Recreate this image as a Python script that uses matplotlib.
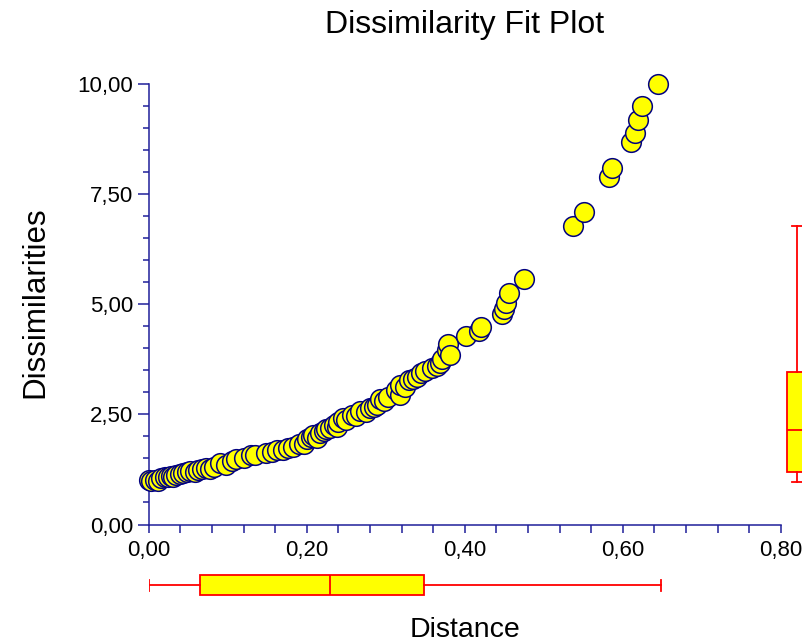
import matplotlib.pyplot as plt
from matplotlib.ticker import MultipleLocator, FuncFormatter

plt.rcParams['font.family'] = ['Liberation Sans', 'DejaVu Sans']

# fitted distances and the matching input dissimilarities
distance = [
    0.000, 0.003, 0.008, 0.012, 0.016, 0.020, 0.024, 0.028, 0.031, 0.035,
    0.040, 0.044, 0.048, 0.052, 0.058, 0.063,
    0.068, 0.073, 0.078, 0.083, 0.090, 0.098, 0.105, 0.111, 0.120, 0.130,
    0.135, 0.148, 0.156, 0.163, 0.170, 0.176, 0.183, 0.190, 0.196, 0.200,
    0.205, 0.208, 0.213, 0.217, 0.222,
    0.225, 0.230, 0.234, 0.238, 0.240, 0.246, 0.250, 0.257, 0.262, 0.267,
    0.275, 0.280, 0.285, 0.289, 0.293, 0.298, 0.303, 0.313, 0.318, 0.318,
    0.325, 0.329, 0.335, 0.339, 0.345,
    0.350, 0.358, 0.365, 0.369, 0.371, 0.377, 0.379, 0.381, 0.402, 0.418,
    0.420, 0.447, 0.450, 0.452, 0.456, 0.475, 0.537, 0.551, 0.583, 0.587,
    0.610, 0.615, 0.619, 0.624, 0.645,
]
dissimilarity = [
    1.00, 0.98, 1.02, 0.99, 1.05, 1.09, 1.07, 1.10, 1.09, 1.12,
    1.14, 1.16, 1.20, 1.22, 1.19, 1.24,
    1.26, 1.28, 1.25, 1.30, 1.39, 1.36, 1.44, 1.48, 1.52, 1.58,
    1.57, 1.62, 1.65, 1.70, 1.69, 1.74, 1.77, 1.82, 1.84, 1.95,
    1.99, 2.03, 1.96, 2.08, 2.12,
    2.18, 2.20, 2.26, 2.22, 2.33, 2.41, 2.38, 2.49, 2.47, 2.58,
    2.55, 2.64, 2.68, 2.71, 2.86, 2.80, 2.90, 3.05, 2.94, 3.17,
    3.12, 3.28, 3.30, 3.36, 3.45,
    3.48, 3.55, 3.60, 3.66, 3.77, 3.96, 4.09, 3.85, 4.28, 4.40,
    4.48, 4.79, 4.90, 5.04, 5.26, 5.58, 6.78, 7.09, 7.90, 8.10,
    8.68, 8.90, 9.18, 9.50, 10.00,
]

# box summaries: lower whisker, Q1, median, Q3, upper whisker
distance_box = [0.000, 0.065, 0.229, 0.349, 0.648]
dissimilarity_box = [0.97, 1.20, 2.14, 3.47, 6.78]

NAVY = '#1F1F9A'
W, H = 802, 642


def px(left, top, width, height):
    return [left / W, 1 - (top + height) / H, width / W, height / H]


def box_stats(vals):
    lo, q1, med, q3, hi = vals
    return dict(whislo=lo, q1=q1, med=med, q3=q3, whishi=hi, fliers=[])


box_style = dict(
    patch_artist=True, showfliers=False,
    boxprops=dict(facecolor='#FFFF00', edgecolor='#FF0000', linewidth=1.3),
    whiskerprops=dict(color='#FF0000', linewidth=1.3),
    capprops=dict(color='#FF0000', linewidth=1.3),
    medianprops=dict(color='#FF0000', linewidth=1.3),
)

comma = FuncFormatter(lambda v, pos: f"{v:.2f}".replace('.', ','))

fig = plt.figure(figsize=(W / 100, H / 100), dpi=100)

ax = fig.add_axes(px(148.7, 84.3, 632, 440.2))
ax.scatter(distance, dissimilarity, s=200, c='#FFFF00', edgecolors='#000080',
           linewidths=1.1, clip_on=False, zorder=3)
ax.set_xlim(0, 0.8)
ax.set_ylim(0, 10)
for side in ('top', 'right'):
    ax.spines[side].set_visible(False)
for side in ('left', 'bottom'):
    ax.spines[side].set_color(NAVY)
    ax.spines[side].set_linewidth(1.1)
ax.xaxis.set_major_locator(MultipleLocator(0.2))
ax.xaxis.set_minor_locator(MultipleLocator(0.04))
ax.yaxis.set_major_locator(MultipleLocator(2.5))
ax.yaxis.set_minor_locator(MultipleLocator(0.5))
ax.xaxis.set_major_formatter(comma)
ax.yaxis.set_major_formatter(comma)
ax.tick_params(which='both', direction='out', color=NAVY, width=1.1,
               labelcolor='black', labelsize=16)
ax.tick_params(axis='y', which='major', length=8, pad=3)
ax.tick_params(axis='y', which='minor', length=4.5)
ax.tick_params(axis='x', which='both', length=6, pad=5)

# distance box plot under the x axis
axb = fig.add_axes(px(148.7, 565, 632, 40))
axb.bxp([box_stats(distance_box)], positions=[0], widths=1.0, capwidths=0.55,
        orientation='horizontal', **box_style)
axb.set_xlim(0, 0.8)
axb.set_ylim(-1, 1)
axb.axis('off')

# dissimilarity box plot right of the plot area
axr = fig.add_axes(px(776.7, 84.3, 40, 440.2))
axr.bxp([box_stats(dissimilarity_box)], positions=[0], widths=1.0, capwidths=0.5,
        orientation='vertical', **box_style)
axr.set_xlim(-1, 1)
axr.set_ylim(0, 10)
axr.axis('off')

fig.text(465 / W, 1 - 33.5 / H, 'Dissimilarity Fit Plot', fontsize=23,
         ha='center', va='baseline')
fig.text(465 / W, 1 - 636.7 / H, 'Distance', fontsize=20.5,
         ha='center', va='baseline')
fig.text(35 / W, 1 - 302.5 / H, 'Dissimilarities', fontsize=22.5,
         rotation=90, ha='center', va='center')

fig.savefig('out.png', dpi=100)
